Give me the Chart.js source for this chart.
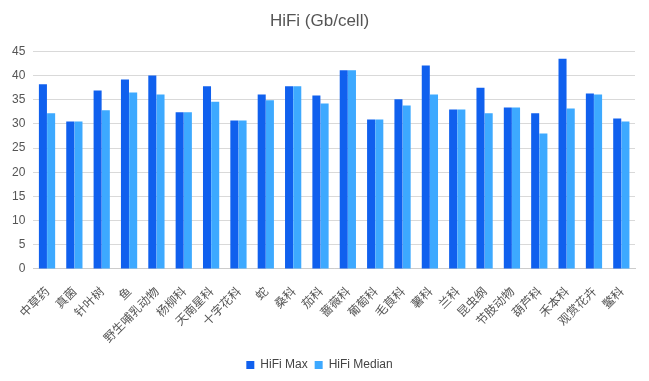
<!DOCTYPE html>
<html>
<head>
<meta charset="utf-8">
<script src="https://cdn.jsdelivr.net/npm/chart.js@4/dist/chart.umd.min.js"></script>
<style>
html,body{margin:0;padding:0;background:#fff;}
#wrap{width:649px;height:381px;}
</style>
</head>
<body>
<div id="wrap"><canvas id="c" width="649" height="381"></canvas></div>
<script>
const categories = ["中草药","真菌","针叶树","鱼","野生哺乳动物","杨柳科","天南星科","十字花科","蛇","桑科","茄科","蔷薇科","葡萄科","毛茛科","薯科","兰科","昆虫纲","节肢动物","葫芦科","禾本科","观赏花卉","鳖科"];
const hifiMax =    [38.2,30.5,36.9,39.2,40.0,32.4,37.8,30.7,36.1,37.8,35.9,41.1,30.9,35.1,42.1,33.0,37.5,33.4,32.2,43.5,36.3,31.1];
const hifiMedian = [32.2,30.5,32.8,36.5,36.1,32.4,34.6,30.7,34.9,37.8,34.2,41.1,30.9,33.8,36.1,33.0,32.2,33.4,28.0,33.2,36.1,30.5];
const titleText = "HiFi (Gb/cell)";

const fontFam = "'Liberation Sans', Arial, 'Noto Sans CJK SC', sans-serif";
new Chart(document.getElementById('c'), {
  type: 'bar',
  data: {
    labels: categories,
    datasets: [
      {label: 'HiFi Max', data: hifiMax, backgroundColor: '#1060EE'},
      {label: 'HiFi Median', data: hifiMedian, backgroundColor: '#3DA9FF'}
    ]
  },
  options: {
    responsive: false,
    animation: false,
    layout: {padding: {left: 4, right: 14, top: 0, bottom: 0}},
    plugins: {
      title: {display: true, text: titleText, color: '#555', font: {family: fontFam, size: 17, weight: 'normal'}, padding: {top: 11, bottom: 20}},
      legend: {position: 'bottom', labels: {boxWidth: 8, boxHeight: 8, color: '#444', font: {family: fontFam, size: 12}, padding: 7}},
      tooltip: {enabled: false}
    },
    scales: {
      x: {
        grid: {display: false},
        border: {color: '#ccc'},
        ticks: {color: '#555', font: {family: "'Noto Sans CJK SC', sans-serif", size: 12}, maxRotation: 45, minRotation: 45, autoSkip: false, padding: 7}
      },
      y: {
        min: 0, max: 45,
        grid: {color: '#d9d9d9', drawTicks: false},
        border: {display: false},
        ticks: {stepSize: 5, color: '#555', font: {family: fontFam, size: 12}, padding: 8}
      }
    },
    datasets: {bar: {categoryPercentage: 0.6, barPercentage: 0.98}}
  }
});
</script>
</body>
</html>
